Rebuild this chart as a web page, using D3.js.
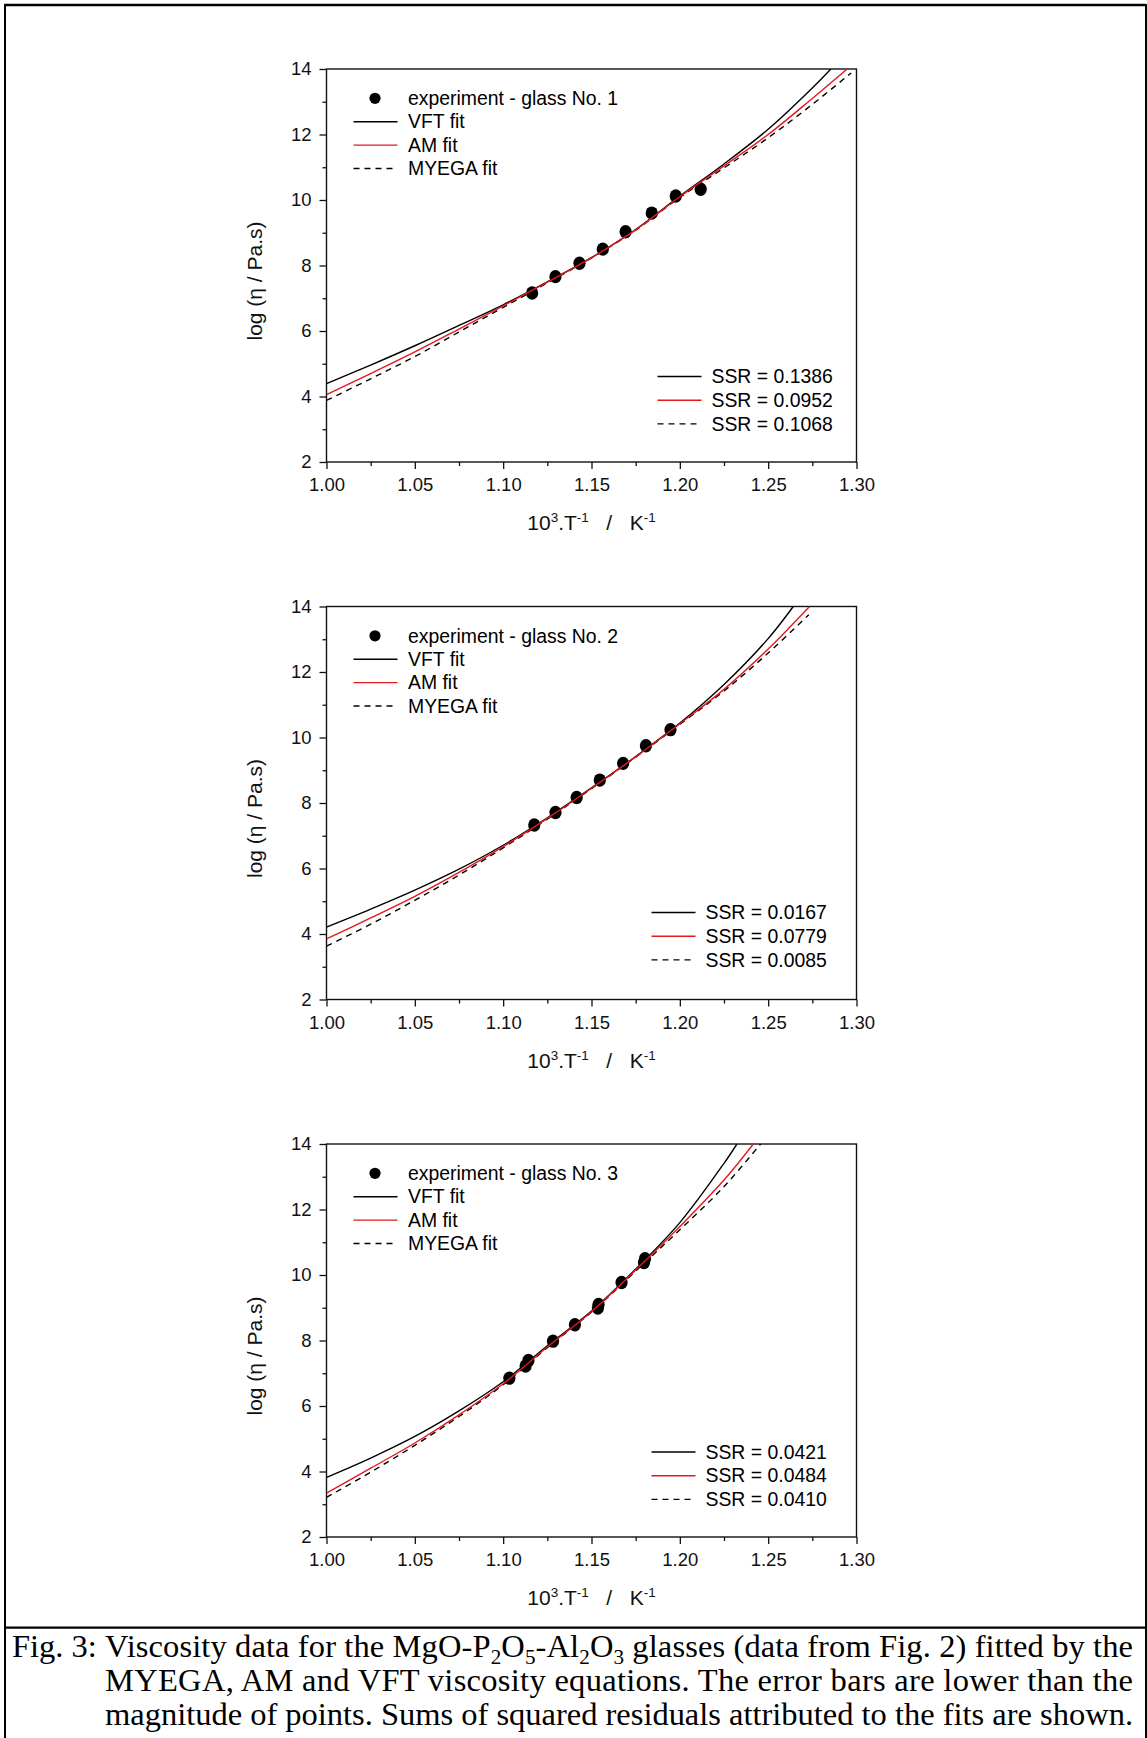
<!DOCTYPE html>
<html><head><meta charset="utf-8">
<script src="https://cdn.jsdelivr.net/npm/d3@7"></script>
<style>body{margin:0;background:#fff}svg{display:block}</style>
</head><body>
<script>
// ---------------- DATA ----------------
const xTicks = [1.00, 1.05, 1.10, 1.15, 1.20, 1.25, 1.30];
const xMinor = [1.025, 1.075, 1.125, 1.175, 1.225, 1.275];
const yTicks = [2, 4, 6, 8, 10, 12, 14];
const yMinor = [3, 5, 7, 9, 11, 13];
const fitNames = ["VFT fit", "AM fit", "MYEGA fit"];
const glassLabels = ["experiment - glass No. 1", "experiment - glass No. 2", "experiment - glass No. 3"];
const ssr1 = ["0.1386", "0.0952", "0.1068"];
const ssr2 = ["0.0167", "0.0779", "0.0085"];
const ssr3 = ["0.0421", "0.0484", "0.0410"];

// glass No. 1
const exp1X = [1.1164, 1.1296, 1.1432, 1.1564, 1.1693, 1.1841, 1.1977, 1.2118];
const exp1Y = [7.16, 7.66, 8.07, 8.50, 9.03, 9.60, 10.12, 10.33];
const vft1X = [1.000, 1.025, 1.050, 1.075, 1.100, 1.125, 1.150, 1.175, 1.200, 1.225, 1.250, 1.275, 1.2855];
const vft1Y = [4.39, 4.96, 5.55, 6.17, 6.80, 7.50, 8.24, 9.10, 10.12, 11.10, 12.16, 13.42, 14.00];
const am1X  = [1.000, 1.025, 1.050, 1.075, 1.100, 1.125, 1.150, 1.175, 1.200, 1.225, 1.250, 1.275, 1.2947];
const am1Y  = [4.06, 4.70, 5.36, 6.06, 6.77, 7.49, 8.24, 9.09, 10.10, 11.04, 12.00, 13.10, 14.00];
const mye1X = [1.000, 1.025, 1.050, 1.075, 1.100, 1.125, 1.150, 1.175, 1.200, 1.225, 1.250, 1.275, 1.297];
const mye1Y = [3.88, 4.54, 5.22, 5.97, 6.72, 7.47, 8.23, 9.08, 10.08, 10.98, 11.90, 12.92, 13.88];

// glass No. 2
const exp2X = [1.1176, 1.1296, 1.1416, 1.1547, 1.1679, 1.1808, 1.1947];
const exp2Y = [7.33, 7.71, 8.17, 8.70, 9.21, 9.75, 10.24];
const vft2X = [1.000, 1.025, 1.050, 1.075, 1.100, 1.125, 1.150, 1.175, 1.200, 1.225, 1.250, 1.2642];
const vft2Y = [4.21, 4.76, 5.34, 5.98, 6.71, 7.55, 8.46, 9.42, 10.44, 11.62, 13.02, 14.00];
const am2X  = [1.000, 1.025, 1.050, 1.075, 1.100, 1.125, 1.150, 1.175, 1.200, 1.225, 1.250, 1.2734];
const am2Y  = [3.85, 4.49, 5.15, 5.88, 6.67, 7.53, 8.45, 9.41, 10.42, 11.47, 12.70, 14.00];
const mye2X = [1.000, 1.025, 1.050, 1.075, 1.100, 1.125, 1.150, 1.175, 1.200, 1.225, 1.250, 1.273];
const mye2Y = [3.63, 4.30, 5.03, 5.80, 6.63, 7.51, 8.44, 9.40, 10.40, 11.42, 12.58, 13.75];

// glass No. 3
const exp3X = [1.1035, 1.1127, 1.1143, 1.1282, 1.1406, 1.1536, 1.1540, 1.1670, 1.1797, 1.1803];
const exp3Y = [6.85, 7.22, 7.39, 7.98, 8.48, 8.99, 9.10, 9.77, 10.38, 10.50];
const vft3X = [1.000, 1.025, 1.050, 1.075, 1.100, 1.125, 1.150, 1.175, 1.200, 1.225, 1.2323];
const vft3Y = [3.82, 4.41, 5.07, 5.85, 6.74, 7.84, 8.90, 10.18, 11.60, 13.41, 14.00];
const am3X  = [1.000, 1.025, 1.050, 1.075, 1.100, 1.125, 1.150, 1.175, 1.200, 1.225, 1.2416];
const am3Y  = [3.34, 4.10, 4.87, 5.73, 6.68, 7.80, 8.88, 10.15, 11.48, 12.90, 14.00];
const mye3X = [1.000, 1.025, 1.050, 1.075, 1.100, 1.125, 1.150, 1.175, 1.200, 1.225, 1.2457];
const mye3Y = [3.21, 3.98, 4.80, 5.68, 6.65, 7.78, 8.87, 10.12, 11.38, 12.70, 14.00];

// caption
const captionLabel = "Fig. 3:";
const captionLine1 = [["Viscosity data for the MgO-P",0],["2",1],["O",0],["5",1],["-Al",0],["2",1],["O",0],["3",1],[" glasses (data from Fig. 2) fitted by the",0]];
const captionLine2 = "MYEGA, AM and VFT viscosity equations. The error bars are lower than the";
const captionLine3 = "magnitude of points. Sums of squared residuals attributed to the fits are shown.";

// ---------------- LAYOUT ----------------
const W = 1147, H = 1738;
const plotLeft = 326.5, plotW = 530, plotH = 393;
const panelTops = [69, 606.5, 1144];
const ssrLegendX = [331, 325, 325];
const ssrLegendY = [307.5, 306, 308];
const sans = "'Liberation Sans', Arial, sans-serif";
const serif = "'Liberation Serif', 'Times New Roman', serif";
const fitStyles = [
  {stroke: "#000", dash: null},
  {stroke: "#e3191f", dash: null},
  {stroke: "#000", dash: "6,5"}
];
const drawOrder = [0, 2, 1];

const svg = d3.select("body").append("svg").attr("width", W).attr("height", H);
svg.append("rect").attr("width", W).attr("height", H).attr("fill", "#fff");

const panels = [
  {exp: [exp1X, exp1Y], fits: [[vft1X, vft1Y], [am1X, am1Y], [mye1X, mye1Y]], ssr: ssr1, label: glassLabels[0]},
  {exp: [exp2X, exp2Y], fits: [[vft2X, vft2Y], [am2X, am2Y], [mye2X, mye2Y]], ssr: ssr2, label: glassLabels[1]},
  {exp: [exp3X, exp3Y], fits: [[vft3X, vft3Y], [am3X, am3Y], [mye3X, mye3Y]], ssr: ssr3, label: glassLabels[2]}
];

const x = d3.scaleLinear().domain([1.0, 1.3]).range([0, plotW]);
const y = d3.scaleLinear().domain([2, 14]).range([plotH, 0]);
const line = d3.line().x(d => x(d[0])).y(d => y(d[1])).curve(d3.curveCatmullRom.alpha(0.5));

svg.append("defs").append("clipPath").attr("id", "clip")
  .append("rect").attr("x", 0).attr("y", 0).attr("width", plotW).attr("height", plotH);

panels.forEach((p, pi) => {
  const g = svg.append("g").attr("transform", `translate(${plotLeft},${panelTops[pi]})`);

  // axes
  const ax = g.append("g").attr("transform", `translate(0,${plotH})`)
    .call(d3.axisBottom(x).tickValues(xTicks).tickSize(7).tickPadding(9).tickFormat(d3.format(".2f")));
  const axm = g.append("g").attr("transform", `translate(0,${plotH})`)
    .call(d3.axisBottom(x).tickValues(xMinor).tickSize(4).tickFormat(""));
  const ay = g.append("g")
    .call(d3.axisLeft(y).tickValues(yTicks).tickSize(7).tickPadding(8).tickFormat(d3.format("d")));
  const aym = g.append("g")
    .call(d3.axisLeft(y).tickValues(yMinor).tickSize(4).tickFormat(""));
  [ax, axm, ay, aym].forEach(a => {
    a.select(".domain").remove();
    a.selectAll("line").attr("stroke", "#111").attr("stroke-width", 1.3);
    a.selectAll("text").attr("fill", "#111").style("font-family", sans).style("font-size", "18.5px");
  });

  // frame
  g.append("rect").attr("width", plotW).attr("height", plotH)
    .attr("fill", "none").attr("stroke", "#111").attr("stroke-width", 1.4);

  // data
  const pg = g.append("g").attr("clip-path", "url(#clip)");
  const pts = p.exp[0].map((v, i) => [v, p.exp[1][i]]);
  pg.selectAll("ellipse.pt").data(pts).enter().append("ellipse")
    .attr("cx", d => x(d[0])).attr("cy", d => y(d[1])).attr("rx", 6.1).attr("ry", 6.7).attr("fill", "#000");

  drawOrder.forEach(k => {
    const f = p.fits[k];
    const dd = f[0].map((v, i) => [v, f[1][i]]);
    pg.append("path").datum(dd).attr("d", line)
      .attr("fill", "none").attr("stroke", fitStyles[k].stroke).attr("stroke-width", 1.4)
      .attr("stroke-dasharray", fitStyles[k].dash);
  });

  // top-left legend
  const lg = g.append("g").style("font-family", sans).style("font-size", "19.4px");
  const rowY = i => 29.3 + i * 23.4;
  lg.append("circle").attr("cx", 48.5).attr("cy", rowY(0)).attr("r", 5.6).attr("fill", "#000");
  lg.append("text").attr("x", 81.5).attr("y", rowY(0)).attr("dy", "0.35em").text(p.label);
  fitNames.forEach((n, i) => {
    lg.append("line").attr("x1", 27).attr("x2", 71).attr("y1", rowY(i + 1)).attr("y2", rowY(i + 1))
      .attr("stroke", fitStyles[i].stroke).attr("stroke-width", 1.4).attr("stroke-dasharray", fitStyles[i].dash);
    lg.append("text").attr("x", 81.5).attr("y", rowY(i + 1)).attr("dy", "0.35em").text(n);
  });

  // SSR legend
  const sg = g.append("g").style("font-family", sans).style("font-size", "19.4px");
  p.ssr.forEach((s, i) => {
    const yy = ssrLegendY[pi] + i * 23.7;
    sg.append("line").attr("x1", ssrLegendX[pi]).attr("x2", ssrLegendX[pi] + 44).attr("y1", yy).attr("y2", yy)
      .attr("stroke", fitStyles[i].stroke).attr("stroke-width", 1.4).attr("stroke-dasharray", fitStyles[i].dash);
    sg.append("text").attr("x", ssrLegendX[pi] + 54).attr("y", yy).attr("dy", "0.35em").text("SSR = " + s);
  });

  // axis titles
  const xt = g.append("text").attr("x", plotW / 2).attr("y", 461).attr("text-anchor", "middle")
    .style("font-family", sans).style("font-size", "21px").attr("fill", "#111");
  xt.append("tspan").text("10");
  xt.append("tspan").attr("dy", -8).style("font-size", "13.5px").text("3");
  xt.append("tspan").attr("dy", 8).text(".T");
  xt.append("tspan").attr("dy", -8).style("font-size", "13.5px").text("-1");
  xt.append("tspan").attr("dy", 8).text("\u00a0\u00a0\u00a0/\u00a0\u00a0\u00a0K");
  xt.append("tspan").attr("dy", -8).style("font-size", "13.5px").text("-1");

  g.append("text").attr("transform", `translate(-64.5,212) rotate(-90)`).attr("text-anchor", "middle")
    .style("font-family", sans).style("font-size", "21px").attr("fill", "#111")
    .text("log (\u03b7 / Pa.s)");
});

// outer frame and caption box
const frame = svg.append("g").attr("stroke", "#000").attr("fill", "none");
frame.append("line").attr("x1", 4).attr("x2", 1146).attr("y1", 5).attr("y2", 5).attr("stroke-width", 2.5);
frame.append("line").attr("x1", 5).attr("x2", 5).attr("y1", 4).attr("y2", H).attr("stroke-width", 2);
frame.append("line").attr("x1", 1146).attr("x2", 1146).attr("y1", 4).attr("y2", H).attr("stroke-width", 2);
frame.append("line").attr("x1", 4).attr("x2", 1147).attr("y1", 1627.7).attr("y2", 1627.7).attr("stroke-width", 2.2);

const capSize = 32.5;
const cap = svg.append("g").style("font-family", serif).style("font-size", capSize + "px").attr("fill", "#000");
const capLeft = 12, capRight = 1133;
const capBase = [1657, 1691, 1725];
const lab = cap.append("text").attr("x", capLeft).attr("y", capBase[0]).text(captionLabel);
const capIndent = capLeft + lab.node().getComputedTextLength() + capSize * 0.25;
const t1 = cap.append("text").attr("x", capIndent).attr("y", capBase[0])
  .attr("textLength", capRight - capIndent).attr("lengthAdjust", "spacing");
captionLine1.forEach(([s, sub], i) => {
  const prevSub = i > 0 ? captionLine1[i - 1][1] : 0;
  const ts = t1.append("tspan").text(s);
  if (sub) ts.attr("dy", 7).style("font-size", (capSize * 0.65) + "px");
  else if (prevSub) ts.attr("dy", -7);
});
cap.append("text").attr("x", capIndent).attr("y", capBase[1])
  .attr("textLength", capRight - capIndent).attr("lengthAdjust", "spacing").text(captionLine2);
cap.append("text").attr("x", capIndent).attr("y", capBase[2])
  .attr("textLength", capRight - capIndent).attr("lengthAdjust", "spacing").text(captionLine3);
</script>
</body></html>
